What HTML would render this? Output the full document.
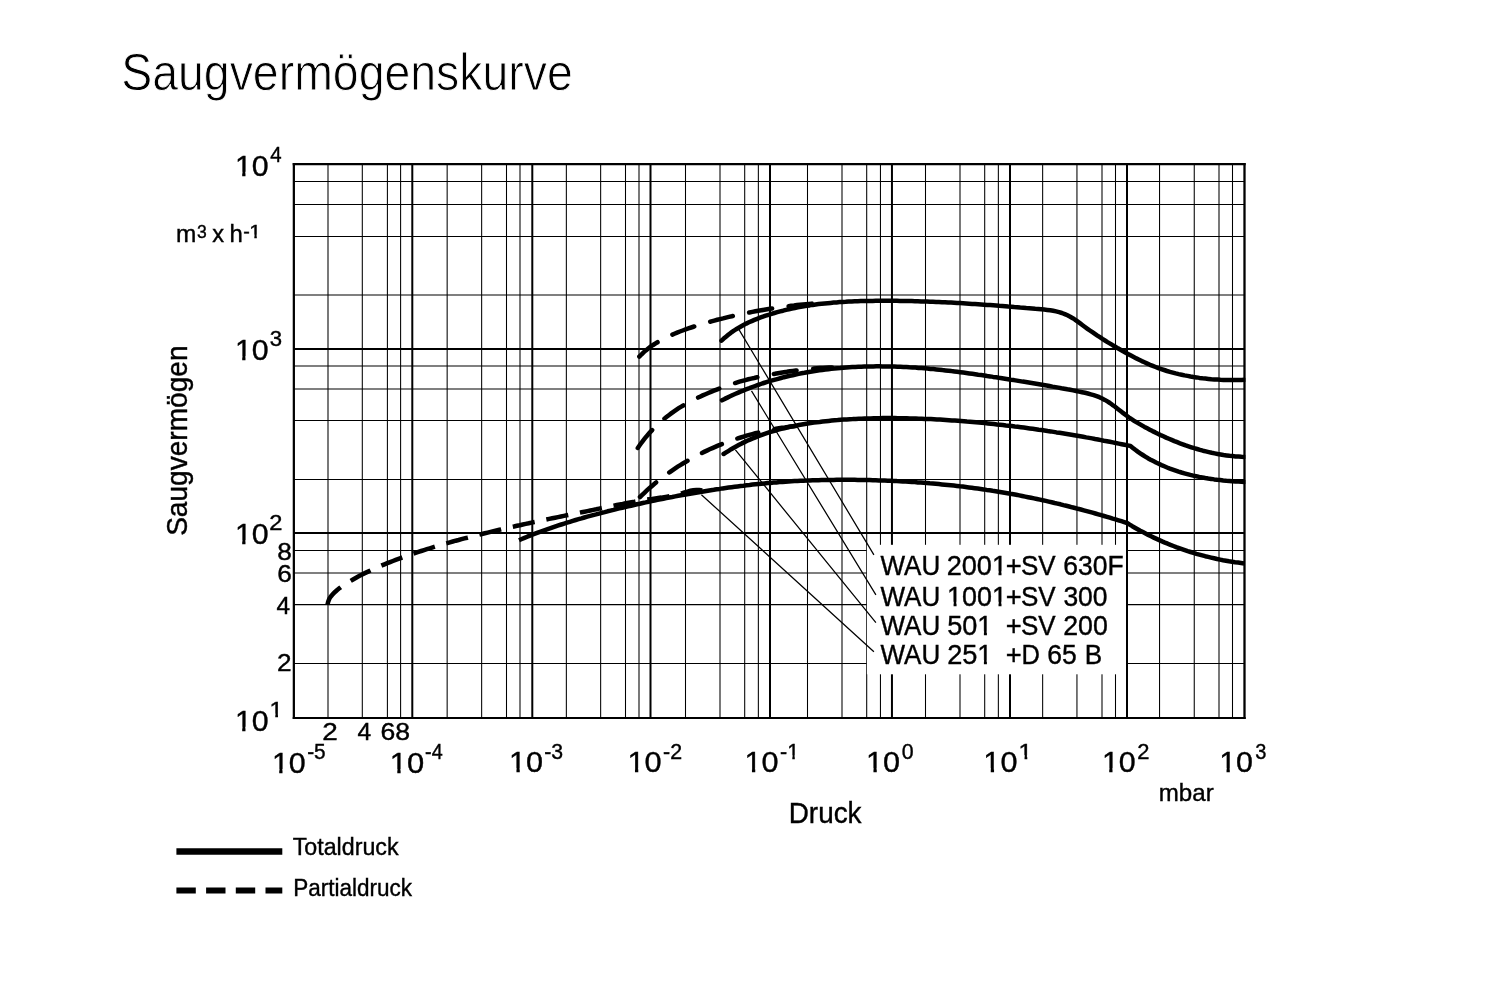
<!DOCTYPE html>
<html lang="de"><head><meta charset="utf-8"><title>Saugvermögenskurve</title>
<style>
html,body{margin:0;padding:0;background:#fff}
body{width:1504px;height:1006px;overflow:hidden}
svg{display:block}
text{font-family:"Liberation Sans",sans-serif;fill:#000;white-space:pre;stroke:#000;stroke-width:0.4px}
</style></head><body>
<svg width="1504" height="1006" viewBox="0 0 1504 1006">
<rect width="1504" height="1006" fill="#fff"/>
<defs><clipPath id="plot"><rect x="290" y="160" width="955.4" height="560"/></clipPath></defs>
<g stroke="#000" stroke-width="1.05" fill="none">
<path d="M328.0 164.2V717.9M362.3 164.2V717.9M387.4 164.2V717.9M400.6 164.2V717.9M447.15 164.2V717.9M481.65 164.2V717.9M506.5 164.2V717.9M520.0 164.2V717.9M566.35 164.2V717.9M600.65 164.2V717.9M625.5 164.2V717.9M639.0 164.2V717.9M685.5 164.2V717.9M720.0 164.2V717.9M744.7 164.2V717.9M758.35 164.2V717.9M807.5 164.2V717.9M842.0 164.2V717.9M866.7 164.2V717.9M880.45 164.2V717.9M925.5 164.2V717.9M960.0 164.2V717.9M984.7 164.2V717.9M998.35 164.2V717.9M1042.65 164.2V717.9M1076.95 164.2V717.9M1102.0 164.2V717.9M1115.5 164.2V717.9M1159.55 164.2V717.9M1194.25 164.2V717.9M1219.0 164.2V717.9M1232.5 164.2V717.9M294.0 181.5H1244.5M294.0 204.45H1244.5M294.0 236.45H1244.5M294.0 295.0H1244.5M294.0 366.0H1244.5M294.0 389.0H1244.5M294.0 420.5H1244.5M294.0 479.4H1244.5M294.0 550.45H1244.5M294.0 572.95H1244.5M294.0 604.6H1244.5M294.0 663.4H1244.5"/>
</g>
<g stroke="#000" stroke-width="2" fill="none">
<path d="M412.3 164.2V717.9M532.3 164.2V717.9M650.5 164.2V717.9M770.0 164.2V717.9M891.95 164.2V717.9M1010.0 164.2V717.9M1127.0 164.2V717.9M294.0 348.95H1244.5M294.0 532.9H1244.5"/>
</g>
<rect x="866.9" y="544.8" width="259.1" height="129.5" fill="#fff"/>
<path d="M1127 164.2V717.9" stroke="#000" stroke-width="2"/>
<path d="M293.85 163V719" stroke="#000" stroke-width="2.25"/><path d="M1244.5 163V719" stroke="#000" stroke-width="2.3"/><path d="M292.72 164.15H1245.65" stroke="#000" stroke-width="2.4"/><path d="M292.72 718.0H1245.65" stroke="#000" stroke-width="1.9"/>
<g fill="none" stroke="#000" stroke-width="4.5" clip-path="url(#plot)">
<path stroke-linecap="round" stroke-linejoin="round" d="M721.5 340.7L723.7 338.6L726.0 336.7L728.3 334.8L730.7 332.9L733.2 331.2L735.7 329.5L738.3 328.0L740.9 326.5L743.5 325.0L746.2 323.6L748.9 322.3L751.7 321.1L754.4 319.9L757.2 318.8L760.0 317.7L762.9 316.7L765.7 315.7L768.6 314.8L771.5 313.9L774.4 313.0L777.3 312.2L780.2 311.4L783.1 310.7L786.0 309.9L788.9 309.3L791.9 308.6L794.8 308.0L797.8 307.4L800.8 306.9L803.7 306.3L806.7 305.8L809.7 305.4L812.7 304.9L815.6 304.5L818.6 304.1L821.6 303.8L824.6 303.5L827.6 303.2L830.6 302.9L833.6 302.6L836.6 302.4L839.6 302.1L842.6 301.9L845.6 301.8L848.7 301.6L851.7 301.5L854.7 301.3L857.7 301.2L860.7 301.1L863.7 301.0L866.7 301.0L869.7 300.9L872.7 300.9L875.8 300.8L878.8 300.8L881.8 300.8L884.8 300.8L887.8 300.8L890.8 300.8L893.8 300.8L896.9 300.8L899.9 300.9L902.9 300.9L905.9 301.0L908.9 301.0L911.9 301.1L914.9 301.2L917.9 301.3L921.0 301.4L924.0 301.5L927.0 301.6L930.0 301.7L933.0 301.8L936.0 301.9L939.0 302.0L942.0 302.2L945.0 302.3L948.1 302.5L951.1 302.6L954.1 302.8L957.1 303.0L960.1 303.1L963.1 303.3L966.1 303.5L969.1 303.7L972.1 303.9L975.1 304.1L978.1 304.3L981.1 304.5L984.1 304.7L987.2 304.9L990.2 305.1L993.2 305.3L996.2 305.5L999.2 305.8L1002.2 306.0L1005.2 306.2L1008.2 306.5L1011.2 306.7L1014.2 307.0L1017.2 307.2L1020.2 307.5L1023.2 307.7L1026.2 308.0L1029.2 308.2L1032.2 308.5L1035.2 308.8L1038.2 309.0L1041.2 309.3L1044.2 309.6L1047.2 309.9L1050.2 310.3L1053.2 310.8L1056.1 311.4L1059.1 312.1L1061.9 313.0L1064.8 314.1L1067.5 315.3L1070.2 316.7L1072.8 318.2L1075.3 319.8L1077.8 321.6L1080.2 323.4L1082.6 325.2L1085.0 327.0L1087.5 328.8L1089.9 330.5L1092.4 332.2L1094.9 333.9L1097.4 335.6L1099.9 337.2L1102.4 338.9L1105.0 340.5L1107.5 342.1L1110.1 343.6L1112.7 345.2L1115.3 346.7L1117.9 348.3L1120.5 349.8L1123.1 351.3L1125.7 352.7L1128.4 354.2L1131.0 355.6L1133.7 357.0L1136.4 358.4L1139.1 359.7L1141.8 361.1L1144.5 362.3L1147.3 363.6L1150.0 364.8L1152.8 365.9L1155.6 367.0L1158.4 368.1L1161.3 369.1L1164.1 370.0L1167.0 371.0L1169.9 371.8L1172.8 372.6L1175.7 373.4L1178.7 374.1L1181.6 374.7L1184.5 375.4L1187.5 375.9L1190.5 376.5L1193.4 377.0L1196.4 377.4L1199.4 377.9L1202.4 378.3L1205.4 378.6L1208.4 378.9L1211.4 379.2L1214.4 379.4L1217.4 379.6L1220.4 379.8L1223.4 379.9L1226.4 380.0L1229.4 380.1L1232.5 380.1L1235.5 380.1L1238.5 380.0L1241.5 379.9L1244.5 379.8"/>
<path stroke-linecap="round" stroke-linejoin="round" d="M722.0 400.3L724.7 398.9L727.4 397.6L730.1 396.3L732.8 395.0L735.6 393.8L738.3 392.6L741.1 391.4L743.9 390.3L746.7 389.1L749.5 388.1L752.3 387.0L755.1 386.0L758.0 385.0L760.8 384.0L763.7 383.0L766.5 382.1L769.4 381.2L772.3 380.4L775.2 379.6L778.1 378.8L781.0 378.0L783.9 377.2L786.8 376.5L789.8 375.8L792.7 375.2L795.6 374.5L798.6 373.9L801.5 373.3L804.5 372.8L807.4 372.2L810.4 371.7L813.4 371.2L816.4 370.8L819.3 370.3L822.3 369.9L825.3 369.6L828.3 369.2L831.3 368.8L834.3 368.5L837.3 368.2L840.3 368.0L843.3 367.7L846.3 367.5L849.3 367.3L852.3 367.1L855.3 366.9L858.3 366.8L861.3 366.7L864.3 366.6L867.3 366.5L870.3 366.4L873.3 366.4L876.3 366.3L879.3 366.3L882.3 366.4L885.4 366.4L888.4 366.4L891.4 366.5L894.4 366.6L897.4 366.7L900.4 366.8L903.4 366.9L906.4 367.1L909.4 367.3L912.4 367.4L915.4 367.6L918.4 367.9L921.4 368.1L924.4 368.3L927.4 368.6L930.4 368.9L933.4 369.1L936.4 369.4L939.4 369.7L942.4 370.1L945.4 370.4L948.4 370.7L951.4 371.1L954.4 371.4L957.3 371.8L960.3 372.2L963.3 372.6L966.3 373.0L969.3 373.4L972.3 373.8L975.2 374.2L978.2 374.7L981.2 375.1L984.2 375.5L987.1 376.0L990.1 376.4L993.1 376.9L996.1 377.3L999.0 377.8L1002.0 378.2L1005.0 378.7L1008.0 379.2L1010.9 379.7L1013.9 380.1L1016.9 380.6L1019.8 381.1L1022.8 381.6L1025.8 382.0L1028.8 382.5L1031.7 383.0L1034.7 383.5L1037.7 384.0L1040.6 384.5L1043.6 385.0L1046.6 385.5L1049.5 386.0L1052.5 386.6L1055.5 387.1L1058.4 387.6L1061.4 388.2L1064.3 388.7L1067.3 389.3L1070.3 389.8L1073.2 390.4L1076.2 391.0L1079.1 391.6L1082.1 392.2L1085.0 392.8L1087.9 393.5L1090.8 394.3L1093.7 395.1L1096.6 396.1L1099.4 397.2L1102.1 398.5L1104.8 399.9L1107.4 401.4L1109.9 403.0L1112.3 404.8L1114.8 406.5L1117.2 408.4L1119.5 410.2L1121.9 412.1L1124.3 413.9L1126.7 415.7L1129.1 417.5L1131.6 419.2L1134.1 420.8L1136.7 422.4L1139.3 423.9L1141.9 425.4L1144.5 426.9L1147.2 428.3L1149.8 429.7L1152.5 431.1L1155.2 432.4L1157.9 433.8L1160.6 435.1L1163.4 436.3L1166.1 437.6L1168.9 438.8L1171.6 439.9L1174.4 441.1L1177.2 442.2L1180.0 443.3L1182.8 444.3L1185.7 445.4L1188.5 446.3L1191.4 447.3L1194.2 448.2L1197.1 449.0L1200.0 449.9L1202.9 450.7L1205.8 451.4L1208.8 452.1L1211.7 452.8L1214.6 453.4L1217.6 454.0L1220.6 454.5L1223.5 455.0L1226.5 455.4L1229.5 455.8L1232.5 456.1L1235.5 456.4L1238.5 456.6L1241.5 456.8L1244.5 456.9"/>
<path stroke-linecap="round" stroke-linejoin="round" d="M723.6 454.0L726.1 452.4L728.7 450.8L731.2 449.2L733.8 447.7L736.5 446.2L739.1 444.8L741.8 443.4L744.5 442.1L747.2 440.8L750.0 439.6L752.8 438.4L755.5 437.3L758.3 436.2L761.2 435.1L764.0 434.1L766.8 433.2L769.7 432.2L772.6 431.3L775.5 430.5L778.4 429.7L781.3 428.9L784.2 428.2L787.1 427.5L790.0 426.8L793.0 426.2L795.9 425.6L798.9 425.0L801.9 424.5L804.8 424.0L807.8 423.5L810.8 423.1L813.8 422.6L816.7 422.2L819.7 421.9L822.7 421.5L825.7 421.2L828.7 420.9L831.7 420.6L834.7 420.3L837.7 420.1L840.7 419.8L843.7 419.6L846.7 419.4L849.7 419.2L852.7 419.1L855.7 418.9L858.7 418.8L861.7 418.7L864.7 418.5L867.7 418.4L870.7 418.4L873.7 418.3L876.8 418.2L879.8 418.2L882.8 418.1L885.8 418.1L888.8 418.1L891.8 418.1L894.8 418.1L897.8 418.2L900.8 418.2L903.8 418.3L906.8 418.3L909.9 418.4L912.9 418.5L915.9 418.6L918.9 418.7L921.9 418.8L924.9 418.9L927.9 419.0L930.9 419.1L933.9 419.3L936.9 419.5L939.9 419.6L942.9 419.8L945.9 420.0L948.9 420.2L951.9 420.4L954.9 420.6L957.9 420.8L960.9 421.0L963.9 421.2L966.9 421.5L969.9 421.7L972.9 422.0L975.9 422.3L978.9 422.5L981.9 422.8L984.9 423.1L987.9 423.4L990.9 423.7L993.9 424.0L996.9 424.4L999.9 424.7L1002.9 425.0L1005.9 425.4L1008.8 425.7L1011.8 426.1L1014.8 426.5L1017.8 426.8L1020.8 427.2L1023.8 427.6L1026.8 428.0L1029.7 428.4L1032.7 428.8L1035.7 429.2L1038.7 429.7L1041.7 430.1L1044.6 430.5L1047.6 431.0L1050.6 431.4L1053.6 431.9L1056.5 432.4L1059.5 432.8L1062.5 433.3L1065.4 433.8L1068.4 434.3L1071.4 434.8L1074.3 435.3L1077.3 435.8L1080.3 436.3L1083.2 436.8L1086.2 437.4L1089.2 437.9L1092.1 438.4L1095.1 439.0L1098.0 439.5L1101.0 440.1L1103.9 440.7L1106.9 441.2L1109.9 441.8L1112.8 442.4L1115.8 443.0L1118.7 443.6L1121.7 444.2L1124.6 444.8L1127.6 445.4L1130.5 446.0L1130.5 446.0L1132.9 447.9L1135.3 449.8L1137.7 451.6L1140.2 453.3L1142.8 455.0L1145.3 456.6L1147.9 458.2L1150.6 459.7L1153.3 461.1L1156.0 462.5L1158.7 463.8L1161.5 465.1L1164.3 466.3L1167.1 467.5L1169.9 468.6L1172.8 469.6L1175.7 470.6L1178.6 471.6L1181.5 472.5L1184.4 473.3L1187.3 474.1L1190.3 474.9L1193.2 475.6L1196.2 476.2L1199.2 476.9L1202.2 477.4L1205.2 478.0L1208.2 478.5L1211.2 478.9L1214.2 479.4L1217.2 479.8L1220.2 480.1L1223.2 480.5L1226.3 480.8L1229.3 481.0L1232.3 481.3L1235.4 481.5L1238.4 481.6L1241.5 481.8L1244.5 481.9"/>
<path stroke-linejoin="round" d="M519.0 540.2L521.8 539.0L524.5 537.9L527.3 536.7L530.1 535.6L532.9 534.5L535.7 533.4L538.5 532.3L541.4 531.3L544.2 530.3L547.0 529.3L549.9 528.3L552.7 527.3L555.6 526.3L558.4 525.4L561.3 524.5L564.2 523.6L567.0 522.7L569.9 521.8L572.8 520.9L575.7 520.0L578.6 519.2L581.5 518.4L584.4 517.5L587.3 516.7L590.2 515.9L593.1 515.1L596.0 514.4L598.9 513.6L601.8 512.8L604.7 512.1L607.6 511.3L610.5 510.6L613.5 509.9L616.4 509.1L619.3 508.4L622.2 507.7L625.2 507.0L628.1 506.3L631.0 505.7L634.0 505.0L636.9 504.3L639.8 503.7L642.8 503.0L645.7 502.4L648.6 501.7L651.6 501.1L654.5 500.5L657.5 499.9L660.4 499.3L663.4 498.7L666.3 498.1L669.3 497.5L672.2 497.0L675.2 496.4L678.2 495.8L681.1 495.3L684.1 494.8L687.0 494.2L690.0 493.7L693.0 493.2L695.9 492.7L698.9 492.2L701.9 491.7L704.8 491.2L707.8 490.7L710.8 490.2L713.8 489.8L716.7 489.3L719.7 488.9L722.7 488.4L725.7 488.0L728.6 487.6L731.6 487.2L734.6 486.8L737.6 486.4L740.6 486.0L743.6 485.7L746.6 485.3L749.6 485.0L752.5 484.6L755.5 484.3L758.5 484.0L761.5 483.7L764.5 483.4L767.5 483.1L770.5 482.9L773.5 482.6L776.5 482.4L779.5 482.1L782.5 481.9L785.5 481.7L788.5 481.5L791.5 481.3L794.5 481.1L797.5 481.0L800.5 480.8L803.5 480.7L806.6 480.6L809.6 480.4L812.6 480.3L815.6 480.2L818.6 480.2L821.6 480.1L824.6 480.0L827.6 479.9L830.6 479.9L833.6 479.9L836.6 479.8L839.7 479.8L842.7 479.8L845.7 479.8L848.7 479.8L851.7 479.8L854.7 479.8L857.7 479.9L860.7 479.9L863.7 480.0L866.7 480.0L869.7 480.1L872.8 480.2L875.8 480.3L878.8 480.4L881.8 480.5L884.8 480.6L887.8 480.7L890.8 480.8L893.8 480.9L896.8 481.1L899.8 481.2L902.8 481.4L905.8 481.6L908.8 481.8L911.8 481.9L914.8 482.1L917.8 482.4L920.8 482.6L923.8 482.8L926.8 483.0L929.8 483.3L932.8 483.5L935.8 483.8L938.8 484.1L941.8 484.4L944.8 484.7L947.8 485.0L950.8 485.3L953.8 485.6L956.8 485.9L959.8 486.3L962.8 486.6L965.8 487.0L968.8 487.4L971.7 487.8L974.7 488.2L977.7 488.6L980.7 489.0L983.7 489.4L986.6 489.9L989.6 490.3L992.6 490.8L995.6 491.2L998.5 491.7L1001.5 492.2L1004.5 492.7L1007.4 493.2L1010.4 493.8L1013.4 494.3L1016.3 494.8L1019.3 495.4L1022.2 496.0L1025.2 496.6L1028.1 497.2L1031.1 497.8L1034.0 498.4L1037.0 499.0L1039.9 499.6L1042.9 500.3L1045.8 500.9L1048.7 501.6L1051.7 502.3L1054.6 503.0L1057.5 503.6L1060.5 504.3L1063.4 505.1L1066.3 505.8L1069.2 506.5L1072.1 507.3L1075.0 508.0L1078.0 508.8L1080.9 509.5L1083.8 510.3L1086.7 511.1L1089.6 511.9L1092.5 512.7L1095.4 513.5L1098.3 514.3L1101.2 515.2L1104.1 516.0L1107.0 516.8L1109.8 517.7L1112.7 518.6L1115.6 519.4L1118.5 520.3L1121.4 521.2L1124.2 522.1L1127.1 523.0L1127.1 523.0L1129.7 524.6L1132.3 526.2L1134.9 527.7L1137.6 529.2L1140.2 530.7L1142.9 532.1L1145.6 533.5L1148.3 534.9L1151.1 536.3L1153.8 537.6L1156.6 538.9L1159.3 540.1L1162.1 541.4L1164.9 542.6L1167.7 543.7L1170.5 544.9L1173.4 546.0L1176.2 547.1L1179.1 548.1L1181.9 549.1L1184.8 550.1L1187.7 551.1L1190.6 552.0L1193.5 552.9L1196.4 553.8L1199.4 554.6L1202.3 555.4L1205.2 556.2L1208.2 556.9L1211.1 557.6L1214.1 558.3L1217.1 559.0L1220.1 559.6L1223.0 560.2L1226.0 560.7L1229.0 561.3L1232.0 561.7L1235.0 562.2L1238.1 562.6L1241.1 563.0L1244.1 563.4"/>
<path stroke-linecap="round" stroke-dasharray="23.3 16.7" d="M639.3 356.6L641.4 354.5L643.6 352.4L645.9 350.4L648.2 348.5L650.6 346.7L653.1 345.0L655.6 343.4L658.2 341.8L660.8 340.3L663.5 338.9L666.1 337.6L668.9 336.3L671.6 335.0L674.4 333.8L677.1 332.6L679.9 331.5L682.7 330.5L685.6 329.4L688.4 328.4L691.2 327.5L694.1 326.5L697.0 325.6L699.8 324.7L702.7 323.9L705.6 323.0L708.5 322.2L711.4 321.4L714.3 320.6L717.2 319.8L720.1 319.1L723.1 318.4L726.0 317.6L728.9 316.9L731.8 316.3L734.8 315.6L737.7 314.9L740.6 314.3L743.6 313.7L746.5 313.1L749.5 312.5L752.4 311.9L755.4 311.3L758.3 310.8L761.3 310.3L764.3 309.8L767.2 309.3L770.2 308.8L773.2 308.3L776.2 307.9L779.1 307.4L782.1 307.0L785.1 306.6L788.1 306.2L791.1 305.8L794.0 305.5L797.0 305.1L800.0 304.8L803.0 304.5L806.0 304.2L809.0 303.9L812.0 303.6"/>
<path stroke-linecap="round" stroke-dasharray="23 16.8" d="M637.8 448.0L639.5 445.5L641.3 443.0L643.1 440.6L645.0 438.2L646.9 435.9L648.9 433.6L650.9 431.4L653.0 429.2L655.1 427.0L657.3 424.9L659.5 422.9L661.7 420.9L664.1 418.9L666.4 417.0L668.8 415.2L671.2 413.4L673.7 411.6L676.2 409.9L678.7 408.2L681.3 406.6L683.9 405.1L686.5 403.6L689.2 402.1L691.8 400.7L694.5 399.3L697.2 398.0L700.0 396.7L702.7 395.4L705.5 394.2L708.3 393.0L711.0 391.9L713.9 390.7L716.7 389.6L719.5 388.5L722.3 387.5L725.2 386.4L728.0 385.4L730.9 384.4L733.7 383.5L736.6 382.6L739.5 381.7L742.4 380.9L745.4 380.1L748.3 379.3L751.2 378.6L754.2 378.0L757.1 377.3L760.1 376.7L763.1 376.1L766.0 375.5L769.0 374.9L772.0 374.3L774.9 373.8L777.9 373.2L780.9 372.7L783.9 372.2L786.9 371.8L789.9 371.3L792.9 370.9L795.8 370.5L798.9 370.1L801.9 369.8L804.9 369.5L807.9 369.1L810.9 368.9L813.9 368.6L816.9 368.3L819.9 368.1L822.9 367.9L826.0 367.7L829.0 367.5L832.0 367.4"/>
<path stroke-linecap="round" stroke-dasharray="21.7 16.5" d="M640.0 497.0L642.2 494.9L644.4 492.8L646.6 490.7L648.8 488.7L651.1 486.7L653.4 484.7L655.7 482.8L658.1 480.9L660.5 479.0L662.9 477.2L665.3 475.4L667.7 473.6L670.2 471.8L672.7 470.1L675.2 468.4L677.7 466.7L680.3 465.1L682.9 463.5L685.5 462.0L688.1 460.4L690.7 458.9L693.4 457.5L696.0 456.0L698.7 454.6L701.4 453.2L704.1 451.9L706.9 450.6L709.6 449.3L712.4 448.1L715.2 446.9L717.9 445.7L720.7 444.6L723.6 443.4L726.4 442.4L729.2 441.3L732.1 440.3L735.0 439.3L737.8 438.4L740.7 437.5L743.6 436.6L746.5 435.7L749.4 434.9L752.4 434.1L755.3 433.3L758.2 432.6L761.2 431.9L764.1 431.2L767.1 430.6L770.1 430.0L773.0 429.4L776.0 428.8L779.0 428.3L782.0 427.8L785.0 427.4L788.0 426.9L791.0 426.5L794.0 426.2L797.0 425.8L800.0 425.5"/>
<path stroke-dasharray="22.4 11.9" d="M327.5 604.6L328.2 601.7L329.3 598.9L330.9 596.4L332.9 594.1L335.0 592.0L337.2 590.0L339.6 588.1L342.0 586.3L344.5 584.7L347.0 583.0L349.6 581.5L352.2 580.0L354.8 578.5L357.4 577.0L360.0 575.6L362.7 574.2L365.4 572.9L368.1 571.6L370.8 570.3L373.5 569.0L376.3 567.8L379.0 566.6L381.8 565.4L384.5 564.3L387.3 563.2L390.1 562.1L392.9 561.0L395.7 559.9L398.5 558.9L401.4 557.8L404.2 556.8L407.0 555.8L409.8 554.8L412.7 553.9L415.5 552.9L418.4 551.9L421.2 551.0L424.1 550.1L426.9 549.2L429.8 548.3L432.7 547.4L435.5 546.5L438.4 545.7L441.3 544.8L444.2 544.0L447.1 543.2L449.9 542.3L452.8 541.5L455.7 540.7L458.6 540.0L461.5 539.2L464.4 538.4L467.3 537.7L470.2 536.9L473.1 536.2L476.0 535.4L479.0 534.7L481.9 534.0L484.8 533.3L487.7 532.6L490.6 531.9L493.5 531.2L496.5 530.5L499.4 529.8L502.3 529.1L505.2 528.5L508.2 527.8L511.1 527.1L514.0 526.5L516.9 525.8L519.9 525.2L522.8 524.5L525.7 523.9L528.7 523.3L531.6 522.6L534.5 522.0L537.5 521.4L540.4 520.8L543.3 520.1L546.3 519.5L549.2 518.9L552.2 518.3L555.1 517.7L558.0 517.1L561.0 516.5L563.9 515.9L566.8 515.3L569.8 514.7L572.7 514.1L575.7 513.5L578.6 512.9L581.5 512.3L584.5 511.7L587.4 511.1L590.4 510.5L593.3 509.9L596.2 509.3L599.2 508.6L602.1 508.0L605.1 507.4L608.0 506.8L610.9 506.2L613.9 505.6L616.8 505.0L619.8 504.4L622.7 503.9L625.6 503.3L628.6 502.7L631.5 502.2L634.5 501.7L637.5 501.1L640.4 500.6L643.4 500.2L646.3 499.7L649.3 499.3L652.3 498.9L655.3 498.4L658.2 498.0L661.2 497.6L664.2 497.1L667.1 496.6L670.1 496.1L673.0 495.5L675.9 494.8L678.8 494.1L681.7 493.3L684.6 492.4L687.5 491.6L690.4 490.8L693.3 490.3L696.3 490.0L699.3 490.0L702.3 490.4"/>
</g>
<path fill="none" stroke="#000" stroke-width="1.25" d="M738.7 329.1L873.9 554.9M751.5 390.9L875.9 594.8M735.4 449.9L875.9 622.7M701.4 494.7L873.9 651.7"/>
<path d="M176.4 851.5H282.3" stroke="#000" stroke-width="6.4" fill="none"/>
<path d="M176.4 890.5H282.3" stroke="#000" stroke-width="6.2" fill="none" stroke-dasharray="19.4 10.3"/>
<g>
<text x="121.19" y="90.00" font-size="51.6" textLength="451.67" lengthAdjust="spacingAndGlyphs" style="stroke:#fff;stroke-width:0.9px">Saugvermögenskurve</text>
<text><tspan x="234.89" y="175.90" font-size="30.3" textLength="33.70" lengthAdjust="spacingAndGlyphs">10</tspan><tspan x="270.23" y="162.00" font-size="21.2" textLength="11.37" lengthAdjust="spacingAndGlyphs">4</tspan></text>
<text><tspan x="234.89" y="360.20" font-size="30.3" textLength="33.70" lengthAdjust="spacingAndGlyphs">10</tspan><tspan x="269.86" y="345.60" font-size="21.2" textLength="12.32" lengthAdjust="spacingAndGlyphs">3</tspan></text>
<text><tspan x="234.89" y="544.40" font-size="30.3" textLength="33.70" lengthAdjust="spacingAndGlyphs">10</tspan><tspan x="269.31" y="530.00" font-size="21.2" textLength="13.18" lengthAdjust="spacingAndGlyphs">2</tspan></text>
<text><tspan x="234.89" y="730.80" font-size="30.3" textLength="33.70" lengthAdjust="spacingAndGlyphs">10</tspan><tspan x="269.47" y="716.90" font-size="21.2" textLength="13.47" lengthAdjust="spacingAndGlyphs">1</tspan></text>
<text><tspan x="176.08" y="242.30" font-size="24.4">m</tspan><tspan x="197.03" y="237.60" font-size="18.3" textLength="9.74" lengthAdjust="spacingAndGlyphs">3</tspan> <tspan x="212.33" y="242.30" font-size="24.4" textLength="11.82" lengthAdjust="spacingAndGlyphs">x</tspan> <tspan x="229.44" y="242.30" font-size="24.4" textLength="13.31" lengthAdjust="spacingAndGlyphs">h</tspan><tspan x="243.33" y="237.60" font-size="18.3" textLength="6.55" lengthAdjust="spacingAndGlyphs">-</tspan><tspan x="249.25" y="237.60" font-size="18.3" textLength="11.87" lengthAdjust="spacingAndGlyphs">1</tspan></text>
<text x="277.16" y="560.20" font-size="23.6" textLength="14.58" lengthAdjust="spacingAndGlyphs">8</text>
<text x="277.37" y="582.30" font-size="23.6" textLength="14.58" lengthAdjust="spacingAndGlyphs">6</text>
<text x="276.54" y="613.80" font-size="23.6" textLength="13.58" lengthAdjust="spacingAndGlyphs">4</text>
<text x="276.99" y="671.20" font-size="23.6" textLength="14.53" lengthAdjust="spacingAndGlyphs">2</text>
<text><tspan x="322.30" y="739.80" font-size="23.6" textLength="15.50" lengthAdjust="spacingAndGlyphs">2</tspan> <tspan x="357.44" y="739.80" font-size="23.6" textLength="13.69" lengthAdjust="spacingAndGlyphs">4</tspan> <tspan x="380.55" y="739.80" font-size="23.6" textLength="29.61" lengthAdjust="spacingAndGlyphs">68</tspan></text>
<text><tspan x="271.88" y="773.00" font-size="30.3" textLength="33.81" lengthAdjust="spacingAndGlyphs">10</tspan><tspan x="307.18" y="759.10" font-size="21.2" textLength="18.50" lengthAdjust="spacingAndGlyphs">-5</tspan></text>
<text><tspan x="389.83" y="773.00" font-size="30.3" textLength="34.38" lengthAdjust="spacingAndGlyphs">10</tspan><tspan x="425.12" y="759.10" font-size="21.2" textLength="17.56" lengthAdjust="spacingAndGlyphs">-4</tspan></text>
<text><tspan x="509.06" y="772.40" font-size="30.3" textLength="34.04" lengthAdjust="spacingAndGlyphs">10</tspan><tspan x="544.26" y="758.50" font-size="21.2" textLength="18.88" lengthAdjust="spacingAndGlyphs">-3</tspan></text>
<text><tspan x="627.55" y="772.40" font-size="30.3" textLength="34.15" lengthAdjust="spacingAndGlyphs">10</tspan><tspan x="663.05" y="758.50" font-size="21.2" textLength="19.03" lengthAdjust="spacingAndGlyphs">-2</tspan></text>
<text><tspan x="744.56" y="772.40" font-size="30.3" textLength="34.04" lengthAdjust="spacingAndGlyphs">10</tspan><tspan x="780.05" y="758.50" font-size="21.2" textLength="19.10" lengthAdjust="spacingAndGlyphs">-1</tspan></text>
<text><tspan x="866.06" y="772.40" font-size="30.3" textLength="34.04" lengthAdjust="spacingAndGlyphs">10</tspan><tspan x="901.67" y="758.50" font-size="21.2" textLength="11.87" lengthAdjust="spacingAndGlyphs">0</tspan></text>
<text><tspan x="983.36" y="772.40" font-size="30.3" textLength="34.04" lengthAdjust="spacingAndGlyphs">10</tspan><tspan x="1018.63" y="758.50" font-size="21.2" textLength="13.70" lengthAdjust="spacingAndGlyphs">1</tspan></text>
<text><tspan x="1101.88" y="772.40" font-size="30.3" textLength="33.81" lengthAdjust="spacingAndGlyphs">10</tspan><tspan x="1137.20" y="758.50" font-size="21.2" textLength="12.21" lengthAdjust="spacingAndGlyphs">2</tspan></text>
<text><tspan x="1219.18" y="772.40" font-size="30.3" textLength="33.81" lengthAdjust="spacingAndGlyphs">10</tspan><tspan x="1255.24" y="758.50" font-size="21.2" textLength="11.14" lengthAdjust="spacingAndGlyphs">3</tspan></text>
<text x="1158.80" y="801.00" font-size="24.4" textLength="54.90" lengthAdjust="spacingAndGlyphs">mbar</text>
<text x="788.71" y="822.50" font-size="30.2" textLength="72.85" lengthAdjust="spacingAndGlyphs">Druck</text>
<text x="292.69" y="854.90" font-size="24.7" textLength="105.88" lengthAdjust="spacingAndGlyphs">Totaldruck</text>
<text x="293.15" y="896.30" font-size="24.7" textLength="118.91" lengthAdjust="spacingAndGlyphs">Partialdruck</text>
<text transform="translate(187.1 535.87) rotate(-90)" x="0" y="0" font-size="28.7" textLength="190.40" lengthAdjust="spacingAndGlyphs">Saugvermögen</text>
<text><tspan x="880.49" y="575.20" font-size="27.6" textLength="59.79" lengthAdjust="spacingAndGlyphs">WAU</tspan> <tspan x="946.63" y="575.20" font-size="27.6" textLength="60.44" lengthAdjust="spacingAndGlyphs">2001</tspan><tspan x="1005.66" y="575.20" font-size="27.6" textLength="15.99" lengthAdjust="spacingAndGlyphs">+</tspan><tspan x="1021.02" y="575.20" font-size="27.6" textLength="34.70" lengthAdjust="spacingAndGlyphs">SV</tspan> <tspan x="1063.25" y="575.20" font-size="27.6" textLength="60.41" lengthAdjust="spacingAndGlyphs">630F</tspan></text>
<text><tspan x="880.49" y="605.60" font-size="27.6" textLength="59.79" lengthAdjust="spacingAndGlyphs">WAU</tspan> <tspan x="947.11" y="605.60" font-size="27.6" textLength="59.92" lengthAdjust="spacingAndGlyphs">1001</tspan><tspan x="1005.66" y="605.60" font-size="27.6" textLength="15.99" lengthAdjust="spacingAndGlyphs">+</tspan><tspan x="1021.02" y="605.60" font-size="27.6" textLength="34.70" lengthAdjust="spacingAndGlyphs">SV</tspan> <tspan x="1063.39" y="605.60" font-size="27.6" textLength="44.14" lengthAdjust="spacingAndGlyphs">300</tspan></text>
<text><tspan x="880.49" y="635.00" font-size="27.6" textLength="59.79" lengthAdjust="spacingAndGlyphs">WAU</tspan> <tspan x="947.21" y="635.00" font-size="27.6" textLength="45.25" lengthAdjust="spacingAndGlyphs">501</tspan>  <tspan x="1005.66" y="635.00" font-size="27.6" textLength="15.99" lengthAdjust="spacingAndGlyphs">+</tspan><tspan x="1021.02" y="635.00" font-size="27.6" textLength="34.70" lengthAdjust="spacingAndGlyphs">SV</tspan> <tspan x="1063.26" y="635.00" font-size="27.6" textLength="44.59" lengthAdjust="spacingAndGlyphs">200</tspan></text>
<text><tspan x="880.49" y="663.90" font-size="27.6" textLength="59.79" lengthAdjust="spacingAndGlyphs">WAU</tspan> <tspan x="947.13" y="663.90" font-size="27.6" textLength="45.35" lengthAdjust="spacingAndGlyphs">251</tspan>  <tspan x="1005.66" y="663.90" font-size="27.6" textLength="15.99" lengthAdjust="spacingAndGlyphs">+</tspan><tspan x="1021.61" y="663.90" font-size="27.6" textLength="18.41" lengthAdjust="spacingAndGlyphs">D</tspan> <tspan x="1047.36" y="663.90" font-size="27.6" textLength="29.46" lengthAdjust="spacingAndGlyphs">65</tspan> <tspan x="1084.86" y="663.90" font-size="27.6" textLength="17.42" lengthAdjust="spacingAndGlyphs">B</tspan></text>
</g>
<path fill="#fff" d="M235.27 171.84H242.20V177.80H235.27ZM245.48 171.84H252.10V177.80H245.48ZM235.27 356.14H242.20V362.10H235.27ZM245.48 356.14H252.10V362.10H245.48ZM235.27 540.34H242.20V546.30H235.27ZM245.48 540.34H252.10V546.30H245.48ZM235.27 726.74H242.20V732.70H235.27ZM245.48 726.74H252.10V732.70H245.48ZM269.68 713.52H275.26V718.80H269.68ZM278.00 713.52H283.33V718.80H278.00ZM249.37 234.43H254.31V239.50H249.37ZM256.80 234.43H261.52V239.50H256.80ZM272.27 768.94H279.22V774.90H272.27ZM282.51 768.94H289.15V774.90H282.51ZM390.23 768.94H397.30V774.90H390.23ZM400.63 768.94H407.38V774.90H400.63ZM509.45 768.34H516.45V774.30H509.45ZM519.76 768.34H526.44V774.30H519.76ZM627.95 768.34H634.97V774.30H627.95ZM638.28 768.34H644.99V774.30H638.28ZM744.95 768.34H751.95V774.30H744.95ZM755.26 768.34H761.94V774.30H755.26ZM787.33 755.12H792.30V760.40H787.33ZM794.80 755.12H799.55V760.40H794.80ZM866.45 768.34H873.45V774.30H866.45ZM876.76 768.34H883.44V774.30H876.76ZM983.75 768.34H990.75V774.30H983.75ZM994.06 768.34H1000.74V774.30H994.06ZM1018.85 755.12H1024.52V760.40H1018.85ZM1027.30 755.12H1032.72V760.40H1027.30ZM1102.27 768.34H1109.22V774.30H1102.27ZM1112.51 768.34H1119.15V774.30H1112.51ZM1219.57 768.34H1226.52V774.30H1219.57ZM1229.81 768.34H1236.45V774.30H1229.81ZM992.26 571.34H998.50V577.10H992.26ZM1001.50 571.34H1007.46V577.10H1001.50ZM947.40 601.74H953.58V607.50H947.40ZM956.56 601.74H962.47V607.50H956.56ZM992.34 601.74H998.52V607.50H992.34ZM1001.50 601.74H1007.41V607.50H1001.50ZM977.68 631.14H983.90V636.90H977.68ZM986.90 631.14H992.85V636.90H986.90ZM977.66 660.04H983.90V665.80H977.66ZM986.90 660.04H992.86V665.80H986.90Z"/>
</svg>
</body></html>
